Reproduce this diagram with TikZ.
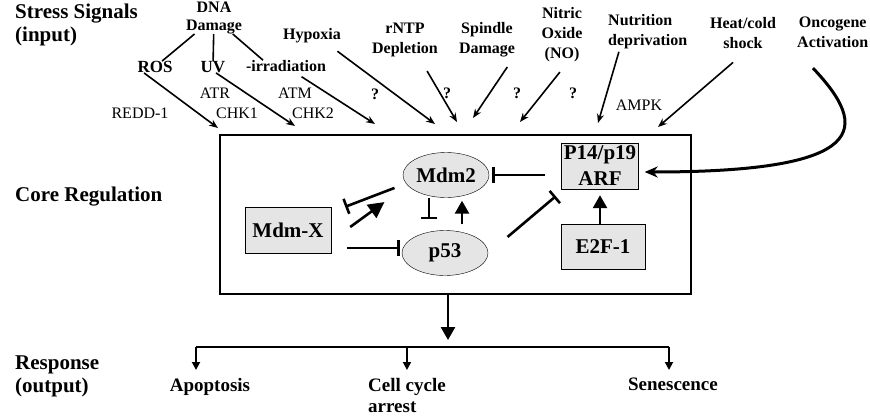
\documentclass[tikz,border=0pt]{standalone}
\usepackage{fontspec}
\setmainfont{Liberation Serif}
\usetikzlibrary{arrows.meta,positioning,shapes.geometric}
\tikzset{
  level/.style = {font=\bfseries\fontsize{21}{23}\selectfont, align=left, inner sep=0pt},
  stim/.style  = {font=\bfseries\fontsize{16}{20}\selectfont, align=center, inner sep=0pt},
  kin/.style   = {font=\fontsize{16}{20}\selectfont, inner sep=0pt},
  prot/.style  = {draw, fill=gray!20, font=\bfseries\fontsize{21}{26}\selectfont,
                  align=center, inner sep=0pt},
  oval/.style  = {ellipse, draw, fill=gray!20, font=\bfseries\fontsize{21}{23}\selectfont,
                  inner sep=0pt, minimum width=86pt, minimum height=45pt},
  fate/.style  = {font=\bfseries\fontsize{19}{21}\selectfont, align=left, inner sep=0pt},
  corebox/.style = {draw, line width=2pt, minimum width=471pt, minimum height=159pt},
  link/.style  = {line width=1.6pt},
  sig/.style   = {-{Stealth[length=9pt,width=7pt]}, line width=1.6pt},
  onco/.style  = {-{Stealth[length=13pt,width=11pt]}, line width=3pt},
  act/.style   = {-{Triangle[length=13pt,width=14pt]}, line width=2.6pt},
  bigact/.style = {-{Triangle[length=16pt,width=16pt]}, line width=2.6pt},
  inh/.style   = {-{Bar[width=16pt]}, line width=2.6pt},
  fork/.style  = {-{Triangle[length=8pt,width=8pt]}, line width=1.8pt},
}

\begin{document}
\begin{tikzpicture}[x=1pt,y=-1pt]
  \useasboundingbox (0,0) rectangle (870,418);
  \clip (0,0) rectangle (870,418);

  % level labels
  \node[level, anchor=south west] (lvin)   at (15,46)  {Stress Signals\\(input)};
  \node[level, anchor=west]       (lvcore) at (15,197) {Core Regulation};
  \node[level, anchor=north west] (lvout)  at (15,356) {Response\\(output)};

  % stress signals
  \node[stim, anchor=south, font=\bfseries\fontsize{16}{18}\selectfont] (dna) at (214,34) {DNA\\Damage};
  \node[stim, font=\bfseries\fontsize{17}{20}\selectfont] (ros) at (155,67) {ROS};
  \node[stim, font=\bfseries\fontsize{17}{20}\selectfont] (uv)  at (213,67) {UV};
  \node[stim] (irr) at (286,66) {-irradiation};
  \node[stim] (hyp) at (312,36) {Hypoxia};
  \node[stim, anchor=north] (rntp) at (405,23) {rNTP\\Depletion};
  \node[stim, anchor=north] (spin) at (487,22) {Spindle\\Damage};
  \node[stim, anchor=north] (no)   at (562,7)  {Nitric\\Oxide\\(NO)};
  \node[stim, anchor=north west, align=left] (nut) at (608,14) {Nutrition\\deprivation};
  \node[stim, anchor=north] (heat) at (743,17) {Heat/cold\\shock};
  \node[stim, anchor=north west] (onc) at (797,17) {Oncogene\\Activation};

  % kinases
  \node[kin] (redd) at (140,113) {REDD-1};
  \node[kin] (atr)  at (215,93)  {ATR};
  \node[kin] (chka) at (237,113) {CHK1};
  \node[kin] (atm)  at (295,93)  {ATM};
  \node[kin] (chkb) at (313,113) {CHK2};
  \node[kin] (ampk) at (639,105) {AMPK};

  % unknown routes
  \node[stim] (qa) at (375,94) {?};
  \node[stim] (qb) at (447,93) {?};
  \node[stim] (qc) at (517,93) {?};
  \node[stim] (qd) at (573,93) {?};

  % arrow ends above the core
  \coordinate (e-ros)  at (218,128);
  \coordinate (e-uv)   at (295,126);
  \coordinate (e-irr)  at (375,124);
  \coordinate (e-hyp)  at (435,124);
  \coordinate (e-rntp) at (457,122);
  \coordinate (e-spin) at (473,118);
  \coordinate (e-no)   at (520,122);
  \coordinate (e-nut)  at (598,123);
  \coordinate (e-heat) at (658,127);

  \draw[link] (dna) -- (ros);
  \draw[link] (dna) -- (uv);
  \draw[link] (dna) -- ([xshift=-23pt]irr.north);

  \draw[sig] ([xshift=-11pt]ros.south) -- (e-ros);
  \draw[sig] ([xshift=3pt]uv.south) -- (e-uv);
  \draw[sig, shorten <=9pt]  ([xshift=8pt]irr.south) -- (e-irr);
  \draw[sig, shorten <=13pt] ([xshift=15pt]hyp.south) -- (e-hyp);
  \draw[sig, shorten <=16pt] ([xshift=14pt]rntp.south) -- (e-rntp);
  \draw[sig, shorten <=12pt] ([xshift=27pt]spin.south) -- (e-spin);
  \draw[sig, shorten <=13pt] ([xshift=6pt]no.south) -- (e-no);
  \draw[sig, shorten <=3pt]  ([xshift=-28pt]nut.south) -- (e-nut);
  \draw[sig, shorten <=21pt] ([xshift=6pt]heat.south) -- (e-heat);

  % core regulation
  \node[corebox] (core) at (455,214.5) {};
  \node[oval] (mdm2) at (446,175) {Mdm2};
  \node[oval] (p53)  at (445,253) {p53};
  \node[prot, minimum width=86pt, minimum height=46pt] (mdmx) at (288,230) {Mdm-X};
  \node[prot, minimum width=77pt, minimum height=46pt] (arf)  at (600,166) {P14/p19\\ARF};
  \node[prot, minimum width=84pt, minimum height=45pt] (e2f)  at (603,247) {E2F-1};

  \draw[onco] ([xshift=16pt,yshift=-20pt]onc.south west)
      .. controls +(57,60) and +(225,0) .. ([xshift=6pt,yshift=-6pt]arf.east);

  \draw[inh, shorten <=16pt, shorten >=3pt] (arf.west |- mdm2) -- (mdm2);
  \draw[inh] ([xshift=-16pt]mdm2.200) -- ([xshift=14pt]mdmx.north east);
  \draw[bigact] ([xshift=19pt,yshift=3pt]mdmx.east) -- ([xshift=-31pt,yshift=-11pt]mdm2.south west);
  \draw[inh, shorten >=11pt] ([xshift=-17pt]mdm2.south) -- ([xshift=-17pt]mdm2.south |- p53.north);
  \draw[act] ([xshift=17pt,yshift=6pt]p53.north) -- ([xshift=16pt,yshift=-3pt]mdm2.south);
  \draw[inh, shorten <=16pt, shorten >=2pt] ([yshift=5pt]mdmx.east |- p53.west) -- ([yshift=5pt]p53.west);
  \draw[inh] ([xshift=32pt]p53.north east) -- ([xshift=-5.5pt,yshift=-7pt]arf.south west);
  \draw[act, shorten >=6pt] (e2f.north -| arf.south) -- (arf.south);

  % response
  \node[fate, anchor=north]      (apop) at (210,378) {Apoptosis};
  \node[fate, anchor=north west] (cell) at (368,378) {Cell cycle\\arrest};
  \node[fate, anchor=north]      (sen)  at (673,378) {Senescence};

  \coordinate (hub) at (448,347);
  \coordinate (brl) at (196,347);
  \coordinate (brr) at (669,347);
  \draw[act, shorten >=7pt] (core.south -| hub) -- (hub);
  \draw[line width=1.8pt] (brl) -- (brr);
  \draw[fork, shorten >=8pt] (brl) -- (brl |- apop.north);
  \draw[fork, shorten >=8pt] (cell.north |- brl) -- (cell.north);
  \draw[fork, shorten >=8pt] (brr) -- (brr |- sen.north);
\end{tikzpicture}
\end{document}
